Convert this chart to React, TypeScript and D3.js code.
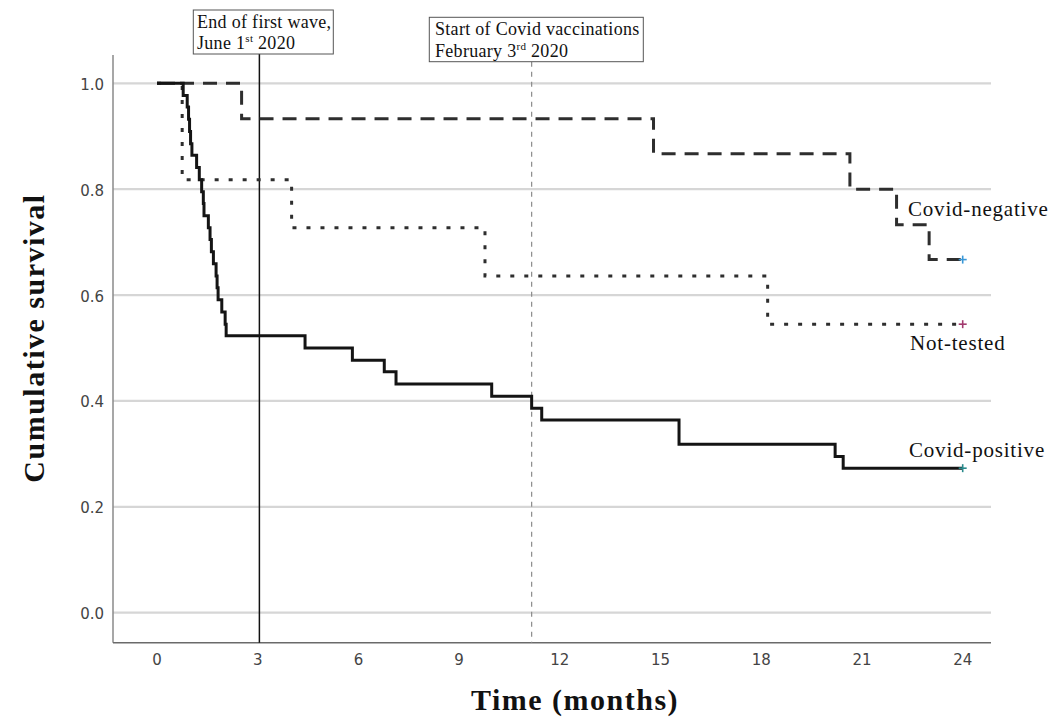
import React from "react";
import * as d3 from "d3";

// ---- Data ----
const positiveTimes = [0, 0.78, 0.90, 0.94, 0.97, 1.00, 1.04, 1.18, 1.26, 1.33, 1.38, 1.40, 1.53, 1.58, 1.62, 1.68, 1.76, 1.79, 1.82, 1.93, 2.03, 2.06, 4.41, 5.82, 6.77, 7.12, 9.97, 11.16, 11.46, 15.55, 20.20, 20.44, 24];
const positiveSurv = [1.0, 0.977, 0.955, 0.932, 0.909, 0.886, 0.864, 0.841, 0.818, 0.795, 0.773, 0.750, 0.727, 0.705, 0.682, 0.659, 0.636, 0.614, 0.591, 0.568, 0.545, 0.523, 0.500, 0.477, 0.455, 0.432, 0.409, 0.386, 0.364, 0.318, 0.295, 0.273, 0.273];

const negativeTimes = [0, 2.52, 14.79, 20.64, 22.03, 23.0, 24];
const negativeSurv = [1.0, 0.933, 0.867, 0.800, 0.733, 0.667, 0.667];

const notTestedTimes = [0, 0.75, 4.01, 9.77, 18.19, 24];
const notTestedSurv = [1.0, 0.818, 0.727, 0.636, 0.545, 0.545];

const xTicks = [0, 3, 6, 9, 12, 15, 18, 21, 24];
const yTicks = [0.0, 0.2, 0.4, 0.6, 0.8, 1.0];

const firstWaveEnd = 3.05;
const vaccinationStart = 11.16;

const seriesNames = ["Covid-negative", "Not-tested", "Covid-positive"];
const censorColors = ["#3a98d8", "#a23a6e", "#2a8a8c"];

const W = 1062;
const H = 717;

export default function App() {
  const x = d3.scaleLinear().domain([0, 24]).range([157, 962.7]);
  const y = d3.scaleLinear().domain([0, 1]).range([612.7, 83.3]);
  const plotLeft = 113;
  const plotRight = 991;
  const plotBottom = 642.7;
  const plotTop = 55;

  const line = d3
    .line<[number, number]>()
    .x((d) => x(d[0]))
    .y((d) => y(d[1]))
    .curve(d3.curveStepAfter);

  const zip = (t: number[], s: number[]) => t.map((v, i) => [v, s[i]] as [number, number]);

  const series = [
    { name: seriesNames[0], pts: zip(negativeTimes, negativeSurv), dash: "14,9", color: "#2e2e2e", width: 3 },
    { name: seriesNames[1], pts: zip(notTestedTimes, notTestedSurv), dash: "4,10", color: "#2e2e2e", width: 3 },
    { name: seriesNames[2], pts: zip(positiveTimes, positiveSurv), dash: "none", color: "#141414", width: 3 },
  ];

  const labelPos = [
    { x: 908, y: 216 },
    { x: 910, y: 350 },
    { x: 909, y: 457 },
  ];

  const serif = "'Liberation Serif', 'Times New Roman', serif";
  const sans = "'DejaVu Sans', sans-serif";

  return (
    <svg width={W} height={H} style={{ position: "absolute", left: 0, top: 0, background: "#fff" }}>
      {/* gridlines */}
      {yTicks.map((t) => (
        <line key={"g" + t} x1={plotLeft} x2={plotRight} y1={y(t)} y2={y(t)} stroke="#d6d6d6" strokeWidth={2.2} />
      ))}
      {/* axes */}
      <line x1={plotLeft} x2={plotLeft} y1={plotTop} y2={plotBottom} stroke="#8a8a8a" strokeWidth={1.5} />
      <line x1={plotLeft} x2={plotRight} y1={plotBottom} y2={plotBottom} stroke="#6a6a6a" strokeWidth={1.5} />
      {/* y tick labels */}
      {yTicks.map((t) => (
        <text key={"yl" + t} x={104} y={y(t) + 2} textAnchor="end" dominantBaseline="middle" fontFamily={sans} fontSize={15} fill="#444">
          {t.toFixed(1)}
        </text>
      ))}
      {/* x tick labels */}
      {xTicks.map((t) => (
        <text key={"xl" + t} x={x(t)} y={660} textAnchor="middle" dominantBaseline="middle" fontFamily={sans} fontSize={15} fill="#444">
          {t}
        </text>
      ))}
      {/* axis titles */}
      <text x={575} y={710} textAnchor="middle" fontFamily={serif} fontWeight="bold" fontSize={30} letterSpacing={1.5} fill="#111">
        Time (months)
      </text>
      <text
        transform={`translate(44,338) rotate(-90)`}
        textAnchor="middle"
        fontFamily={serif}
        fontWeight="bold"
        fontSize={30}
        letterSpacing={1.5}
        fill="#111"
      >
        Cumulative survival
      </text>

      {/* annotation lines */}
      <line x1={x(firstWaveEnd)} x2={x(firstWaveEnd)} y1={54} y2={plotBottom} stroke="#111" strokeWidth={1.5} />
      <line x1={x(vaccinationStart)} x2={x(vaccinationStart)} y1={61.7} y2={plotBottom} stroke="#8a8a8a" strokeWidth={1.2} strokeDasharray="5,5" />

      {/* survival curves */}
      {series.map((s) => (
        <path key={s.name} d={line(s.pts) || ""} fill="none" stroke={s.color} strokeWidth={s.width} strokeDasharray={s.dash} strokeLinecap="butt" />
      ))}
      {/* censor markers */}
      {series.map((s, i) => {
        const last = s.pts[s.pts.length - 1];
        const cx = x(last[0]);
        const cy = y(last[1]);
        return (
          <g key={"c" + i} stroke={censorColors[i]} strokeWidth={1.6}>
            <line x1={cx - 4} x2={cx + 4} y1={cy} y2={cy} />
            <line x1={cx} x2={cx} y1={cy - 4} y2={cy + 4} />
          </g>
        );
      })}
      {/* series labels */}
      {series.map((s, i) => (
        <text key={"lab" + i} x={labelPos[i].x} y={labelPos[i].y} fontFamily={serif} fontSize={21} letterSpacing={0.8} fill="#111">
          {s.name}
        </text>
      ))}

      {/* annotation boxes */}
      <rect x={193.3} y={10} width={140} height={44} fill="#fff" stroke="#555" strokeWidth={1} />
      <text x={197} y={27.5} fontFamily={serif} fontSize={18} letterSpacing={0.3} fill="#111">
        End of first wave,
      </text>
      <text x={197} y={49} fontFamily={serif} fontSize={18} letterSpacing={0.3} fill="#111">
        June 1<tspan fontSize={11} dy={-7}>st</tspan>
        <tspan dy={7}> 2020</tspan>
      </text>

      <rect x={429.3} y={17.3} width={214} height={44.4} fill="#fff" stroke="#555" strokeWidth={1} />
      <text x={435} y={35} fontFamily={serif} fontSize={18} letterSpacing={0.3} fill="#111">
        Start of Covid vaccinations
      </text>
      <text x={435} y={56.5} fontFamily={serif} fontSize={18} letterSpacing={0.3} fill="#111">
        February 3<tspan fontSize={11} dy={-7}>rd</tspan>
        <tspan dy={7}> 2020</tspan>
      </text>
    </svg>
  );
}
